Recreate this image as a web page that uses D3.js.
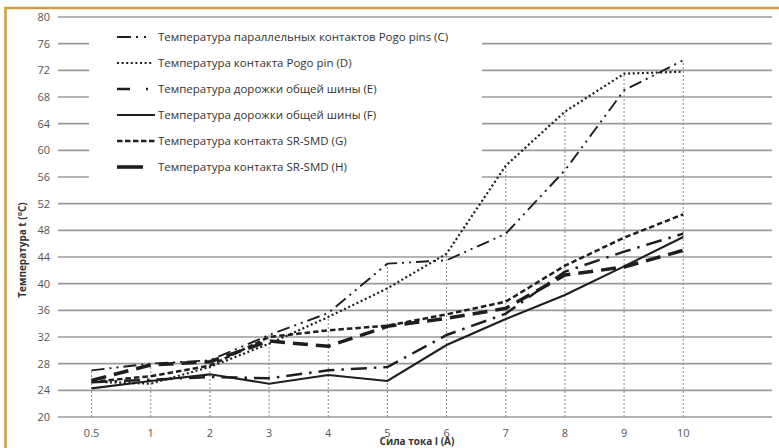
<!DOCTYPE html>
<html>
<head>
<meta charset="utf-8">
<script src="https://cdn.jsdelivr.net/npm/d3@7"></script>
<style>
  body { margin: 0; background: #fff; }
  svg { display: block; font-family: "Open Sans", "Liberation Sans", Arial, sans-serif; }
</style>
</head>
<body>
<div id="chart"></div>
<script>
// categories (current, A)
const currents = ["0.5", "1", "2", "3", "4", "5", "6", "7", "8", "9", "10"];
const yTicks = [20, 24, 28, 32, 36, 40, 44, 48, 52, 56, 60, 64, 68, 72, 76, 80];

// temperatures, °C
const seriesC = [27.0, 28.0, 28.5, 32.3, 35.6, 43.0, 43.5, 47.5, 57.0, 69.0, 73.5];
const seriesD = [25.3, 25.0, 27.5, 31.0, 35.0, 39.3, 44.5, 57.7, 65.8, 71.5, 71.8];
const seriesE = [25.2, 25.6, 26.0, 25.8, 27.0, 27.5, 32.3, 35.5, 41.8, 44.8, 47.5];
const seriesF = [24.3, 25.4, 26.4, 25.0, 26.3, 25.4, 30.8, 34.7, 38.3, 42.6, 47.0];
const seriesG = [25.3, 26.1, 27.7, 32.0, 33.0, 33.7, 35.4, 37.3, 42.7, 46.9, 50.4];
const seriesH = [25.5, 27.8, 28.3, 31.4, 30.6, 33.6, 34.8, 36.3, 41.3, 42.5, 45.0];

const legendLabels = [
  "Температура параллельных контактов Pogo pins (C)",
  "Температура контакта Pogo pin (D)",
  "Температура дорожки общей шины (E)",
  "Температура дорожки общей шины (F)",
  "Температура контакта SR-SMD (G)",
  "Температура контакта SR-SMD (H)"
];

const width = 779;
const height = 448;
const margin = { top: 17, right: 7, bottom: 31, left: 62 };
const innerWidth = width - margin.left - margin.right;
const innerHeight = height - margin.top - margin.bottom;

const series = [
  { values: seriesC, dash: "13,5,2,5,2,5", w: 1.9 },
  { values: seriesD, dash: "2,2.6", w: 2.2 },
  { values: seriesE, dash: "16,7,2.5,7", w: 2.5 },
  { values: seriesF, dash: null, w: 2.1 },
  { values: seriesG, dash: "5.5,3", w: 2.5 },
  { values: seriesH, dash: "15,8", w: 3.5 }
];

const svg = d3.select("#chart").append("svg")
  .attr("width", width)
  .attr("height", height);

// orange frame (only top and left edges are inside the picture)
svg.append("path")
  .attr("d", `M5.5,${height} V8 H${width}`)
  .attr("fill", "none")
  .attr("stroke", "#cf9a3e")
  .attr("stroke-width", 2.5);

const g = svg.append("g")
  .attr("transform", `translate(${margin.left},${margin.top})`);

// one empty slot at the right end, like the original
const x = d3.scaleBand()
  .domain(currents.concat(["_"]))
  .range([0, innerWidth]);

const y = d3.scaleLinear()
  .domain([20, 80])
  .range([innerHeight, 0]);

const cx = d => x(d) + x.bandwidth() / 2;

// horizontal grid + y labels
g.append("g")
  .selectAll("line")
  .data(yTicks)
  .join("line")
  .attr("x1", -4)
  .attr("x2", innerWidth)
  .attr("y1", d => y(d))
  .attr("y2", d => y(d))
  .attr("stroke", "#9a9a9a")
  .attr("stroke-width", 1.6);

g.append("g")
  .selectAll("text")
  .data(yTicks)
  .join("text")
  .attr("x", -12)
  .attr("y", d => y(d))
  .attr("dy", "0.35em")
  .attr("text-anchor", "end")
  .style("font-size", "11px")
  .style("fill", "#555")
  .text(d => d);

// legend box hides the grid behind it
const legend = svg.append("g");
legend.append("rect")
  .attr("x", 89).attr("y", 26)
  .attr("width", 393).attr("height", 162)
  .attr("fill", "#fff");

// vertical drop lines to the highest value
const maxes = currents.map((c, i) => d3.max(series, s => s.values[i]));
g.append("g")
  .selectAll("line")
  .data(currents)
  .join("line")
  .attr("x1", d => cx(d))
  .attr("x2", d => cx(d))
  .attr("y1", innerHeight)
  .attr("y2", (d, i) => y(maxes[i]))
  .attr("stroke", "#888")
  .attr("stroke-width", 1)
  .attr("stroke-dasharray", "2,2");

// x labels
g.append("g")
  .selectAll("text")
  .data(currents)
  .join("text")
  .attr("x", d => cx(d))
  .attr("y", innerHeight + 20)
  .attr("text-anchor", "middle")
  .style("font-size", "11px")
  .style("fill", "#555")
  .text(d => d);

// lines
const line = d3.line()
  .x((d, i) => cx(currents[i]))
  .y(d => y(d));

g.append("g")
  .selectAll("path")
  .data(series)
  .join("path")
  .attr("d", d => line(d.values))
  .attr("fill", "none")
  .attr("stroke", "#1e1e1e")
  .attr("stroke-width", d => d.w)
  .attr("stroke-dasharray", d => d.dash);

// legend entries
const legendSamples = [
  { x2: 152, dash: "14,5,2,6,2,6", w: 1.9 },
  { x2: 152, dash: "2,2.6", w: 2.2 },
  { x2: 150, dash: "13,16,2,10", w: 2.5 },
  { x2: 155, dash: null, w: 2.1 },
  { x2: 155, dash: "5.5,2.5", w: 2.5 },
  { x2: 143, dash: null, w: 3.6 }
];

legendLabels.forEach((label, i) => {
  const ly = 37 + i * 26;
  const s = legendSamples[i];
  legend.append("line")
    .attr("x1", 117).attr("x2", s.x2)
    .attr("y1", ly).attr("y2", ly)
    .attr("stroke", "#1e1e1e")
    .attr("stroke-width", s.w)
    .attr("stroke-dasharray", s.dash);
  legend.append("text")
    .attr("x", 158)
    .attr("y", ly)
    .attr("dy", "0.35em")
    .style("font-size", "11.5px")
    .style("fill", "#333")
    .text(label);
});

// axis titles
svg.append("text")
  .attr("x", margin.left + innerWidth / 2)
  .attr("y", 445)
  .attr("text-anchor", "middle")
  .style("font-size", "10px")
  .style("font-weight", "bold")
  .style("fill", "#333")
  .text("Сила тока I (A)");

svg.append("text")
  .attr("transform", "translate(26,250) rotate(-90)")
  .attr("text-anchor", "middle")
  .style("font-size", "10px")
  .style("font-weight", "bold")
  .style("fill", "#333")
  .text("Температура t (°C)");
</script>
</body>
</html>
